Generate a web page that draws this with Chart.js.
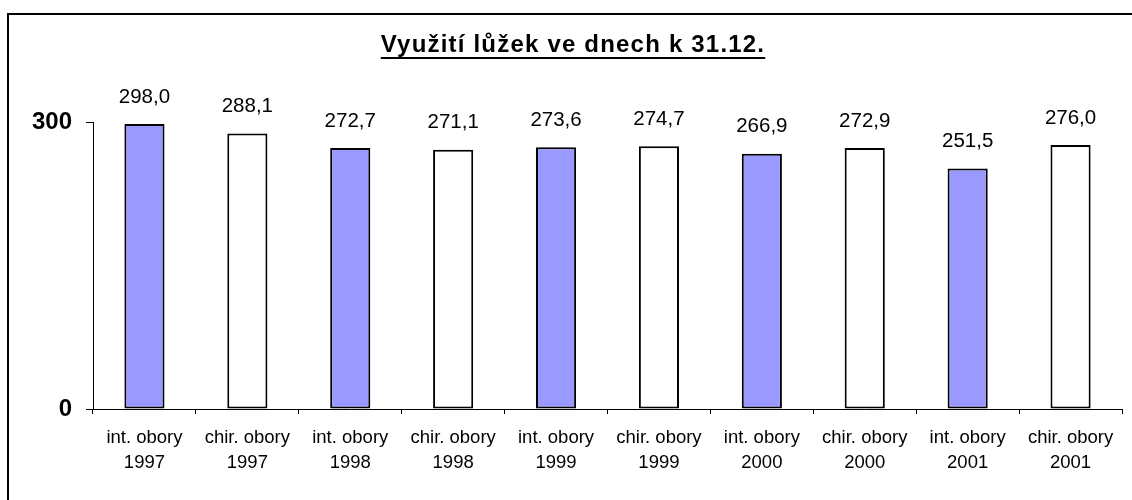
<!DOCTYPE html>
<html>
<head>
<meta charset="utf-8">
<script src="https://cdn.jsdelivr.net/npm/chart.js@4/dist/chart.umd.min.js"></script>
<style>
  html, body { margin: 0; padding: 0; background: #fff; }
  #wrap { width: 1132px; height: 500px; }
</style>
</head>
<body>
<div id="wrap"><canvas id="luzka-chart" width="1132" height="500"></canvas></div>
<script>
var categories = [
    ['int. obory', '1997'], ['chir. obory', '1997'],
    ['int. obory', '1998'], ['chir. obory', '1998'],
    ['int. obory', '1999'], ['chir. obory', '1999'],
    ['int. obory', '2000'], ['chir. obory', '2000'],
    ['int. obory', '2001'], ['chir. obory', '2001']
];
var values = [298.0, 288.1, 272.7, 271.1, 273.6, 274.7, 266.9, 272.9, 251.5, 276.0];
var barColors = ['#9999FF', '#FFFFFF', '#9999FF', '#FFFFFF', '#9999FF', '#FFFFFF', '#9999FF', '#FFFFFF', '#9999FF', '#FFFFFF'];
var yTicks = [0, 300];
var chartTitle = 'Využití lůžek ve dnech k 31.12.';

var FONT = 'Liberation Sans, Arial, sans-serif';

// frame, underlined title and value labels
var extras = {
    id: 'extras',
    afterDraw: function(chart) {
        var ctx = chart.ctx;
        ctx.save();
        ctx.strokeStyle = '#000';
        ctx.lineWidth = 2;
        ctx.strokeRect(8, 14, 1200, 600);

        ctx.font = 'bold 24px ' + FONT;
        ctx.letterSpacing = '1.2px';
        ctx.fillStyle = '#000';
        ctx.textAlign = 'left';
        ctx.textBaseline = 'alphabetic';
        var w = ctx.measureText(chartTitle).width;
        ctx.fillText(chartTitle, 573 - w / 2, 52);
        ctx.fillRect(573 - w / 2, 57, w, 2);
        ctx.letterSpacing = '0px';

        ctx.font = '20.5px ' + FONT;
        ctx.textAlign = 'center';
        ctx.textBaseline = 'middle';
        chart.getDatasetMeta(0).data.forEach(function(bar, i) {
            ctx.fillText(values[i].toFixed(1).replace('.', ','), bar.x, bar.y - 27);
        });
        ctx.restore();
    }
};

var luzka = {
    type: 'bar',
    data: {
        labels: categories,
        datasets: [{
            data: values,
            backgroundColor: barColors,
            borderColor: '#000',
            borderWidth: 2,
            borderSkipped: false,
            barPercentage: 0.39,
            categoryPercentage: 1.0
        }]
    },
    options: {
        responsive: false,
        animation: false,
        layout: { padding: { top: 122, right: 10, bottom: 0, left: 0 } },
        plugins: {
            legend: { display: false },
            title: { display: false },
            tooltip: { enabled: false }
        },
        scales: {
            x: {
                afterFit: function(scale) { scale.height = 91; },
                border: { color: '#000', width: 1 },
                grid: { drawOnChartArea: false, color: '#000', tickLength: 5, offset: true },
                ticks: {
                    color: '#000',
                    padding: 11,
                    maxRotation: 0,
                    autoSkip: false,
                    font: { family: FONT, size: 18.5, lineHeight: 1.37 }
                }
            },
            y: {
                min: 0,
                max: 300,
                afterFit: function(scale) { scale.width = 93; },
                afterBuildTicks: function(scale) {
                    scale.ticks = yTicks.map(function(v) { return { value: v }; });
                },
                border: { color: '#000', width: 1 },
                grid: { drawOnChartArea: false, color: '#000', tickLength: 7 },
                ticks: {
                    color: '#000',
                    padding: 14,
                    font: { family: FONT, size: 24, weight: 'bold' }
                }
            }
        }
    },
    plugins: [extras]
};

window.onload = function() {
    var c = document.getElementById('luzka-chart').getContext('2d');
    window.luzkaChart = new Chart(c, luzka);
};
</script>
</body>
</html>
